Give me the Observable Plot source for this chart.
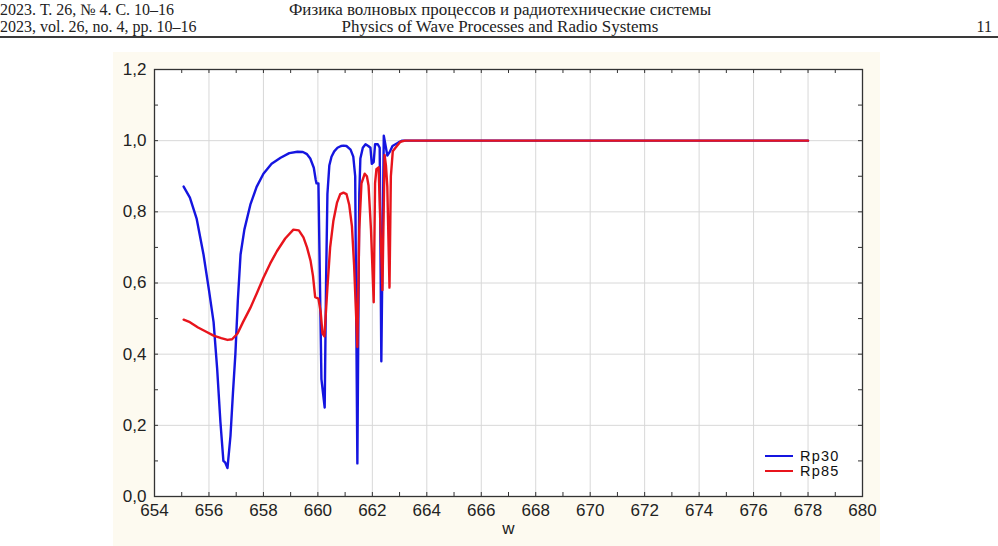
<!DOCTYPE html>
<html>
<head>
<meta charset="utf-8">
<script src="https://cdn.jsdelivr.net/npm/d3@7"></script>
<script src="https://cdn.jsdelivr.net/npm/@observablehq/plot@0.6"></script>
<style>
  html, body { margin: 0; padding: 0; background: #ffffff; }
  body { width: 998px; height: 546px; position: relative; overflow: hidden; }
  .hdr { position: absolute; font-family: "Liberation Serif", "DejaVu Serif", serif; font-size: 16px; color: #222; white-space: nowrap; line-height: 16px; }
  .rule { position: absolute; left: 0; top: 36px; width: 998px; height: 0; border-top: 2.5px solid #3a3a3a; }
  #panel { position: absolute; left: 113px; top: 52px; width: 767px; height: 494px; background: #fdfaf0; }
  .leg { position: absolute; font-family: "Liberation Sans", Arial, sans-serif; font-size: 14.5px; letter-spacing: 1.2px; color: #111; line-height: 14px; }
  .legline { position: absolute; height: 0; border-top: 2.5px solid; width: 28px; }
</style>
</head>
<body>
<div class="hdr" style="left:0px; top:2px;">2023. Т. 26, № 4. С. 10–16</div>
<div class="hdr" style="left:500px; top:2px; transform:translateX(-50%) scaleX(1.06);">Физика волновых процессов и радиотехнические системы</div>
<div class="hdr" style="left:0px; top:19px;">2023, vol. 26, no. 4, pp. 10–16</div>
<div class="hdr" style="left:500px; top:19px; transform:translateX(-50%) scaleX(1.06);">Physics of Wave Processes and Radio Systems</div>
<div class="hdr" style="right:6px; top:19px;">11</div>
<div class="rule"></div>
<div id="panel"></div>
<div class="legline" style="left:765px; top:455px; border-color:#1515e0;"></div>
<div class="leg" style="left:800px; top:449px;">Rp30</div>
<div class="legline" style="left:765px; top:470px; border-color:#e8141c;"></div>
<div class="leg" style="left:800px; top:464px;">Rp85</div>
<script>
// ---- data ----
const w30  = [655.07,655.3,655.55,655.8,656.0,656.17,656.3,656.42,656.53,656.6,656.68,656.79,656.88,656.97,657.06,657.16,657.3,657.52,657.75,658.0,658.3,658.63,658.95,659.25,659.45,659.6,659.72,659.85,659.92,659.95,660.02,660.13,660.25,660.3,660.35,660.42,660.5,660.6,660.72,660.85,660.94,661.05,661.2,661.3,661.37,661.45,661.52,661.56,661.65,661.75,661.85,661.93,661.98,662.05,662.1,662.2,662.27,662.33,662.42,662.5,662.55,662.65,662.74,662.85,662.96,663.1,678.0];
const rp30 = [0.871,0.84,0.78,0.68,0.58,0.49,0.36,0.21,0.10,0.095,0.08,0.17,0.29,0.40,0.55,0.68,0.75,0.82,0.87,0.907,0.935,0.952,0.965,0.969,0.968,0.962,0.95,0.924,0.89,0.88,0.88,0.33,0.25,0.6,0.85,0.93,0.955,0.97,0.98,0.985,0.986,0.985,0.975,0.955,0.90,0.093,0.85,0.95,0.98,0.99,0.985,0.98,0.935,0.94,0.99,0.99,0.98,0.38,1.014,0.98,0.958,0.97,0.985,0.99,0.995,1.0,1.0];
const w85  = [655.07,655.3,655.6,655.9,656.17,656.45,656.68,656.85,657.05,657.25,657.52,657.75,658.0,658.25,658.5,658.8,659.1,659.3,659.47,659.6,659.73,659.82,659.9,660.02,660.1,660.17,660.24,660.35,660.45,660.57,660.7,660.82,660.94,661.05,661.15,661.25,661.33,661.45,661.52,661.6,661.72,661.8,661.86,661.95,662.05,662.1,662.15,662.23,662.3,662.37,662.45,662.5,662.55,662.63,662.68,662.75,662.85,663.03,663.2,678.0];
const rp85 = [0.497,0.49,0.475,0.463,0.452,0.445,0.44,0.442,0.458,0.49,0.53,0.57,0.615,0.655,0.69,0.725,0.75,0.748,0.728,0.70,0.663,0.62,0.56,0.556,0.52,0.458,0.45,0.587,0.70,0.775,0.825,0.85,0.854,0.85,0.82,0.76,0.65,0.42,0.75,0.88,0.907,0.90,0.874,0.75,0.546,0.88,0.92,0.925,0.75,0.58,0.96,0.93,0.87,0.587,0.90,0.97,0.98,0.997,1.0,1.0];
const xMajor = [654,656,658,660,662,664,666,668,670,672,674,676,678,680];
const xMinor = d3.range(654, 681, 1);
const yMajor = [0,0.2,0.4,0.6,0.8,1.0,1.2];
const yMinor = d3.range(0, 13).map(i => i / 10);

const s30 = w30.map((w, i) => ({w, r: rp30[i]}));
const s85 = w85.map((w, i) => ({w, r: rp85[i]}));

const W = 767, H = 494, mL = 41, mR = 18, mT = 17, mB = 50;
const innerW = W - mL - mR, innerH = H - mT - mB;
const fmtY = d => d3.format(".1f")(d).replace(".", ",");

const chart = Plot.plot({
  width: W, height: H,
  marginLeft: mL, marginRight: mR, marginTop: mT, marginBottom: mB,
  x: {domain: [654, 680]},
  y: {domain: [0, 1.2]},
  style: {background: "transparent", fontFamily: "'Liberation Sans', Arial, sans-serif", fontSize: "17px", color: "#222", overflow: "visible"},
  marks: [
    Plot.frame({fill: "white", stroke: "none"}),
    Plot.gridX(xMajor, {stroke: "#d8d8d8", strokeOpacity: 1, strokeWidth: 1}),
    Plot.gridY(yMajor, {stroke: "#d8d8d8", strokeOpacity: 1, strokeWidth: 1}),
    Plot.line(s30, {x: "w", y: "r", stroke: "#1515e0", strokeWidth: 2.4, curve: "linear"}),
    Plot.line(s85, {x: "w", y: "r", stroke: "#e8141c", strokeWidth: 2.4, curve: "linear"}),
    Plot.frame({stroke: "#333", strokeWidth: 1.3}),
    Plot.tickX(xMinor, {x: d => d, insetTop: innerH - 4, stroke: "#333"}),
    Plot.tickX(xMinor, {x: d => d, insetBottom: innerH - 4, stroke: "#333"}),
    Plot.tickY(yMinor, {y: d => d, insetRight: innerW - 4, stroke: "#333"}),
    Plot.tickY(yMinor, {y: d => d, insetLeft: innerW - 4, stroke: "#333"}),
    Plot.axisX(xMajor, {tickSize: 0, tickPadding: 7, label: null, fill: "#222"}),
    Plot.axisY(yMajor, {tickSize: 0, tickPadding: 8, tickFormat: fmtY, label: null, fill: "#222"}),
    Plot.text(["w"], {text: d => d, frameAnchor: "bottom", dy: 37, fill: "#222"})
  ]
});
document.getElementById("panel").appendChild(chart);
</script>
</body>
</html>
